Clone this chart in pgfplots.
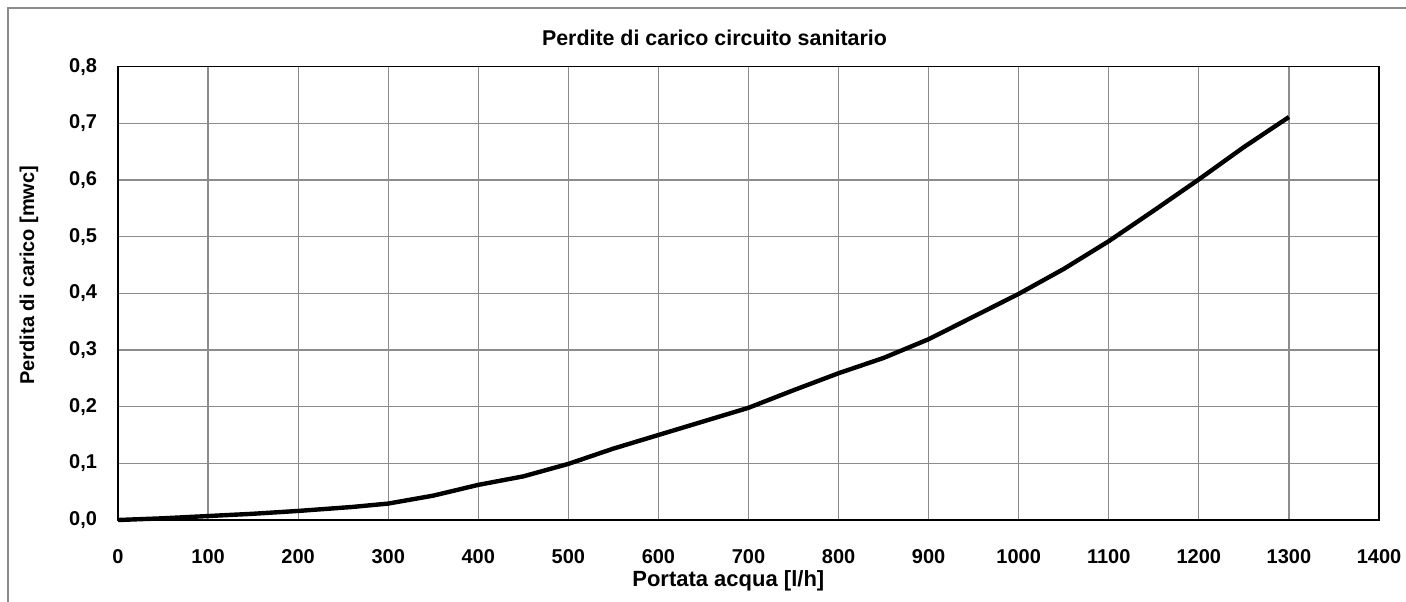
\documentclass[border=0pt]{standalone}
\usepackage{pgfplots}
\pgfplotsset{compat=1.18}
\usepackage{pgfplotstable}
\usepackage{fontspec}
\setmainfont{Liberation Sans}
\pgfplotstableread{
x y
0 0
50 0.003
100 0.007
150 0.011
200 0.016
260 0.023
300 0.029
350 0.043
400 0.062
450 0.077
500 0.099
550 0.126
600 0.150
650 0.174
700 0.198
750 0.229
800 0.259
850 0.286
900 0.319
950 0.359
1000 0.399
1050 0.443
1100 0.492
1150 0.546
1200 0.601
1250 0.658
1300 0.711
}\datatable
\begin{document}
\begin{tikzpicture}
\useasboundingbox (0,0) rectangle (703pt,300.5pt);
\draw[black!45, line width=0.8pt] (4pt,-2pt) -- (4pt,296.5pt) -- (705pt,296.5pt);
\begin{axis}[
  at={(59pt,40.5pt)}, anchor=south west,
  scale only axis, width=630.5pt, height=226.7pt,
  xmin=0, xmax=1400, ymin=0, ymax=0.8,
  xtick={0,100,...,1400},
  ytick={0,0.1,...,0.8},
  major tick length=0pt,
  grid=major,
  major grid style={black!45, line width=0.6pt},
  axis line style={black, line width=0.8pt},
  /pgf/number format/assume math mode=true,
  xticklabel style={font=\bfseries\fontsize{10}{12}\selectfont, yshift=-11pt},
  yticklabel style={font=\bfseries\fontsize{10}{12}\selectfont, xshift=-7pt},
  xticklabel={\pgfmathprintnumber[1000 sep={},assume math mode=true]{\tick}},
  yticklabel={\pgfmathprintnumber[use comma,fixed,precision=1,fixed zerofill,assume math mode=true]{\tick}},
  title={Perdite di carico circuito sanitario},
  title style={font=\bfseries\fontsize{10.7}{12}\selectfont, at={(rel axis cs:0.473,1)}, anchor=center, yshift=8.5pt},
  xlabel={Portata acqua [l/h]},
  xlabel style={font=\bfseries\fontsize{11}{13}\selectfont, at={(rel axis cs:0.484,0)}, anchor=center, yshift=-30.5pt},
  ylabel={Perdita di carico [mwc]},
  ylabel style={font=\bfseries\fontsize{10}{12}\selectfont, at={(rel axis cs:0,0.54)}, anchor=center, yshift=44.5pt},
  clip=false,
]
\addplot[black, line width=2.2pt, line join=round] table[x=x,y=y] {\datatable};
\end{axis}
\end{tikzpicture}
\end{document}
